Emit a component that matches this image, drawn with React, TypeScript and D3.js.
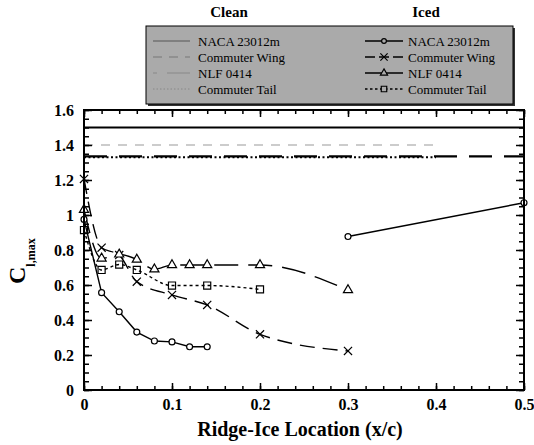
import React, { useEffect, useRef } from 'react';
import * as d3 from 'd3';

// clean airfoils: constant Cl,max lines [x/c, Cl,max]
const cleanNaca = [[0, 1.5], [0.5, 1.5]];
const cleanWing = [[0, 1.4], [0.4, 1.4]];
const cleanNlf = [[0, 1.335], [0.5, 1.335]];
const cleanTail = [[0, 1.33], [0.4, 1.33]];

// iced airfoils (ridge-ice location vs Cl,max)
const icedNacaNear = [[0, 0.975], [0.02, 0.556], [0.04, 0.447], [0.06, 0.331], [0.08, 0.28], [0.1, 0.275], [0.12, 0.247], [0.14, 0.247]];
const icedNacaFar = [[0.3, 0.877], [0.5, 1.07]];
const icedWing = [[0, 1.206], [0.02, 0.813], [0.04, 0.771], [0.06, 0.619], [0.1, 0.543], [0.14, 0.486], [0.2, 0.318], [0.3, 0.223]];
const icedNlf = [[0, 1.03], [0.02, 0.752], [0.04, 0.775], [0.06, 0.746], [0.08, 0.69], [0.1, 0.714], [0.12, 0.714], [0.14, 0.714], [0.2, 0.714], [0.3, 0.571]];
const icedTail = [[0, 0.914], [0.02, 0.686], [0.04, 0.717], [0.06, 0.686], [0.1, 0.597], [0.14, 0.597], [0.2, 0.575]];

const seriesNames = ['NACA 23012m', 'Commuter Wing', 'NLF 0414', 'Commuter Tail'];
const xTicks = [0, 0.1, 0.2, 0.3, 0.4, 0.5];
const yTicks = [0, 0.2, 0.4, 0.6, 0.8, 1, 1.2, 1.4, 1.6];
const xMinor = d3.range(0, 0.5001, 0.02);
const yMinor = d3.range(0, 1.6001, 0.05);

const serif = '"Liberation Serif", "DejaVu Serif", Times, serif';

const App = () => {
    const ref = useRef<SVGSVGElement>(null);
    const left = 84, right = 524, top = 110, bottom = 390;

    const x = d3.scaleLinear().domain([0, 0.5]).range([left, right]);
    const y = d3.scaleLinear().domain([0, 1.6]).range([bottom, top]);

    const straight = d3.line<number[]>().x(d => x(d[0])).y(d => y(d[1]));
    const smooth = d3.line<number[]>().x(d => x(d[0])).y(d => y(d[1])).curve(d3.curveMonotoneX);

    const sym = (type: d3.SymbolType, size: number) => d3.symbol().type(type).size(size)() as string;
    const circle = sym(d3.symbolCircle, 28);
    const cross = sym(d3.symbolX, 45);
    const tri = sym(d3.symbolTriangle, 36);
    const square = sym(d3.symbolSquare, 50);

    useEffect(() => {
        const svg = d3.select(ref.current);
        const fmt = d3.format('~g');

        const style = (g: any) => {
            g.attr('font-family', null).attr('font-size', null);
            g.select('.domain').remove();
            g.selectAll('line').attr('stroke', '#000').attr('stroke-width', 1.5);
            g.selectAll('text')
                .style('font-family', serif)
                .style('font-weight', 'bold')
                .style('font-size', '16px')
                .attr('fill', '#000');
        };

        svg.select('.x-minor').call(d3.axisBottom(x).tickValues(xMinor).tickSize(-4).tickFormat(() => '') as any).call(style);
        svg.select('.x-major').call(d3.axisBottom(x).tickValues(xTicks).tickSize(-7).tickPadding(9).tickFormat(fmt as any) as any).call(style);
        svg.select('.xt-minor').call(d3.axisTop(x).tickValues(xMinor).tickSize(-4).tickFormat(() => '') as any).call(style);
        svg.select('.xt-major').call(d3.axisTop(x).tickValues(xTicks).tickSize(-7).tickFormat(() => '') as any).call(style);

        svg.select('.y-minor').call(d3.axisLeft(y).tickValues(yMinor).tickSize(-5).tickFormat(() => '') as any).call(style);
        svg.select('.y-major').call(d3.axisLeft(y).tickValues(yTicks).tickSize(-8).tickPadding(10).tickFormat(fmt as any) as any).call(style);
        svg.select('.yr-minor').call(d3.axisRight(y).tickValues(yMinor).tickSize(-5).tickFormat(() => '') as any).call(style);
        svg.select('.yr-major').call(d3.axisRight(y).tickValues(yTicks).tickSize(-8).tickFormat(() => '') as any).call(style);
    }, []);

    const marks = (data: number[][], path: string, fill: string) =>
        data.map((d, i) => (
            <path key={i} d={path} transform={`translate(${x(d[0])},${y(d[1])})`}
                fill={fill} stroke="#000" strokeWidth={1.2} />
        ));

    // legend layout
    const rowY = [41, 57, 73, 89];
    const cleanStyles = [
        { stroke: '#555', width: 1, dash: undefined },
        { stroke: '#777', width: 1, dash: '9,7' },
        { stroke: '#888', width: 1, dash: '4,10,22,0' },
        { stroke: '#888', width: 1, dash: '1.5,2' },
    ];
    const icedStyles = [
        { dash: undefined, path: sym(d3.symbolCircle, 18), fill: '#aaa' },
        { dash: '10,4', path: sym(d3.symbolX, 36), fill: 'none' },
        { dash: undefined, path: sym(d3.symbolTriangle, 22), fill: '#aaa' },
        { dash: '2.5,2.5', path: sym(d3.symbolSquare, 30), fill: '#aaa' },
    ];

    const txt = { fontFamily: serif };

    return (
        <svg ref={ref} width={534} height={445} style={{ display: 'block', position: 'absolute', left: 0, top: 0, background: '#fff', fontFamily: serif }}>
            {/* clean lines */}
            <path d={straight(cleanNaca)!} fill="none" stroke="#000" strokeWidth={2.2} />
            <path d={straight(cleanWing)!} fill="none" stroke="#ccc" strokeWidth={1.8} strokeDasharray="9,8" />
            <path d={straight(cleanNlf)!} fill="none" stroke="#000" strokeWidth={2.2} strokeDasharray="23,12" />
            <path d={straight(cleanTail)!} fill="none" stroke="#000" strokeWidth={2.2} strokeDasharray="2,2.5" />

            {/* iced lines */}
            <path d={straight(icedNacaNear)!} fill="none" stroke="#000" strokeWidth={1.4} />
            <path d={straight(icedNacaFar)!} fill="none" stroke="#000" strokeWidth={1.4} />
            <path d={smooth(icedWing)!} fill="none" stroke="#000" strokeWidth={1.4} strokeDasharray="15,8" />
            <path d={smooth(icedNlf)!} fill="none" stroke="#000" strokeWidth={1.4} strokeDasharray="24,10" />
            <path d={smooth(icedTail)!} fill="none" stroke="#000" strokeWidth={1.4} strokeDasharray="3,3" />

            {marks(icedNacaNear, circle, '#fff')}
            {marks(icedNacaFar, circle, '#fff')}
            {marks(icedWing, cross, 'none')}
            {marks(icedNlf, tri, '#fff')}
            {marks(icedTail, square, 'none')}

            <g className="x-minor" transform={`translate(0,${bottom})`} />
            <g className="x-major" transform={`translate(0,${bottom})`} />
            <g className="xt-minor" transform={`translate(0,${top})`} />
            <g className="xt-major" transform={`translate(0,${top})`} />
            <g className="y-minor" transform={`translate(${left},0)`} />
            <g className="y-major" transform={`translate(${left},0)`} />
            <g className="yr-minor" transform={`translate(${right},0)`} />
            <g className="yr-major" transform={`translate(${right},0)`} />

            <rect x={left} y={top} width={right - left} height={bottom - top} fill="none" stroke="#000" strokeWidth={2} />

            {/* axis titles */}
            <text x={300} y={436} textAnchor="middle" style={txt} fontWeight="bold" fontSize={20}>
                Ridge-Ice Location (x/c)
            </text>
            <text transform="translate(25,284) rotate(-90)" style={txt} fontWeight="bold" fontSize={24}>
                C<tspan fontSize={12} dy={10}>l,max</tspan>
            </text>

            {/* legend */}
            <text x={229} y={17} textAnchor="middle" style={txt} fontWeight="bold" fontSize={15}>Clean</text>
            <text x={426} y={17} textAnchor="middle" style={txt} fontWeight="bold" fontSize={15}>Iced</text>
            <rect x={148} y={28} width={367} height={78} fill="#333" />
            <rect x={146} y={26} width={367} height={78} fill="#aaa" stroke="#000" strokeWidth={1} />
            {seriesNames.map((name, i) => (
                <g key={name}>
                    <line x1={153} x2={190} y1={rowY[i]} y2={rowY[i]} stroke={cleanStyles[i].stroke}
                        strokeWidth={cleanStyles[i].width} strokeDasharray={cleanStyles[i].dash} />
                    <text x={198} y={rowY[i] + 4.5} style={txt} fontSize={13}>{name}</text>
                    <line x1={365} x2={403} y1={rowY[i]} y2={rowY[i]} stroke="#000" strokeWidth={1.4}
                        strokeDasharray={icedStyles[i].dash} />
                    <path d={icedStyles[i].path} transform={`translate(384,${rowY[i]})`}
                        fill={icedStyles[i].fill} stroke="#000" strokeWidth={1.2} />
                    <text x={408} y={rowY[i] + 4.5} style={txt} fontSize={13}>{name}</text>
                </g>
            ))}
        </svg>
    );
};

export default App;
